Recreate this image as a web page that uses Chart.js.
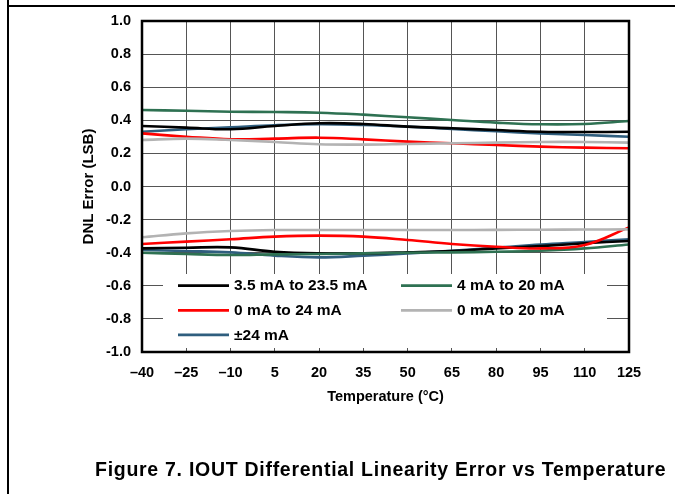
<!DOCTYPE html>
<html><head><meta charset="utf-8">
<script src="https://cdn.jsdelivr.net/npm/chart.js@4/dist/chart.umd.min.js"></script>
<style>
html,body{margin:0;padding:0;background:#fff;}
#wrap{position:relative;width:675px;height:494px;overflow:hidden;background:#fff;}
#c{position:absolute;left:0;top:0;}
#frameV{position:absolute;left:7px;top:0;width:2px;height:494px;background:#000;}
#frameH{position:absolute;left:7px;top:5px;width:668px;height:2px;background:#000;}
#cap{position:absolute;left:95px;top:458px;font:bold 19.5px "Liberation Sans",Arial,sans-serif;letter-spacing:0.72px;color:#000;white-space:nowrap;}
</style></head>
<body>
<div id="wrap">
<canvas id="c" width="675" height="494"></canvas>
<div id="frameV"></div><div id="frameH"></div>
<div id="cap">Figure 7. IOUT Differential Linearity Error vs Temperature</div>
</div>
<script>
const tempLabels = ['–40','–25','–10','5','20','35','50','65','80','95','110','125'];
const yTickLabels = ['-1.0','-0.8','-0.6','-0.4','-0.2','0.0','0.2','0.4','0.6','0.8','1.0'];
const seriesNames = ['3.5 mA to 23.5 mA','4 mA to 20 mA','0 mA to 24 mA','0 mA to 20 mA','±24 mA'];

const dnlMax_3p5to23p5 = [0.366,0.356,0.346,0.366,0.382,0.378,0.362,0.352,0.341,0.331,0.329,0.331];
const dnlMin_3p5to23p5 = [-0.374,-0.370,-0.368,-0.394,-0.404,-0.404,-0.398,-0.390,-0.374,-0.360,-0.343,-0.329];
const dnlMax_4to20 = [0.462,0.458,0.452,0.450,0.446,0.434,0.418,0.402,0.386,0.376,0.378,0.396];
const dnlMin_4to20 = [-0.400,-0.408,-0.414,-0.410,-0.408,-0.404,-0.400,-0.398,-0.394,-0.388,-0.374,-0.350];
const dnlMax_0to24 = [0.321,0.301,0.285,0.289,0.295,0.285,0.271,0.261,0.251,0.241,0.235,0.231];
const dnlMin_0to24 = [-0.347,-0.333,-0.319,-0.303,-0.297,-0.303,-0.323,-0.347,-0.364,-0.374,-0.353,-0.247];
const dnlMax_0to20 = [0.281,0.289,0.281,0.269,0.255,0.253,0.257,0.261,0.265,0.269,0.269,0.265];
const dnlMin_0to20 = [-0.307,-0.283,-0.269,-0.263,-0.263,-0.263,-0.263,-0.263,-0.262,-0.261,-0.260,-0.259];
const dnlMax_pm24 = [0.331,0.346,0.358,0.370,0.376,0.372,0.362,0.348,0.334,0.321,0.311,0.301];
const dnlMin_pm24 = [-0.384,-0.390,-0.398,-0.418,-0.428,-0.418,-0.404,-0.388,-0.370,-0.350,-0.335,-0.319];

const colors = ['#000000','#2e7152','#ff0000','#b3b3b3','#2f5e7e'];
const FONT = '"Liberation Sans", Arial, sans-serif';

function ds(data, si){
  return {label: seriesNames[si], data, borderColor: colors[si], backgroundColor: colors[si],
    borderWidth: 2.6, pointRadius: 0, tension: 0.4, fill:false};
}
const datasets = [
  ds(dnlMax_0to20,3), ds(dnlMin_0to20,3),
  ds(dnlMax_0to24,2), ds(dnlMin_0to24,2),
  ds(dnlMax_4to20,1), ds(dnlMin_4to20,1),
  ds(dnlMax_3p5to23p5,0), ds(dnlMin_3p5to23p5,0),
  ds(dnlMax_pm24,4), ds(dnlMin_pm24,4)
];

const deco = {
  id:'deco',
  beforeDatasetsDraw(chart){
    const {ctx, chartArea:a} = chart;
    ctx.save();
    ctx.fillStyle = '#fff';
    ctx.fillRect(a.left+21, a.top+253, a.width-43, 74);
    const order = [[0,0],[1,1],[2,0],[3,1],[4,0]];
    ctx.font = 'bold 15.5px ' + FONT;
    ctx.textBaseline = 'middle';
    ctx.fillStyle = '#000';
    order.forEach(([si,col],i)=>{
      const row = Math.floor(i/2);
      const y = a.top + 264.7 + row*24.6;
      const x0 = a.left + 36 + col*223;
      ctx.strokeStyle = colors[si];
      ctx.lineWidth = 2.8;
      ctx.beginPath(); ctx.moveTo(x0, y); ctx.lineTo(x0+51, y); ctx.stroke();
      ctx.fillText(seriesNames[si], x0+56, y+0.5);
    });
    ctx.restore();
  },
  afterDatasetsDraw(chart){
    const {ctx, chartArea:a} = chart;
    ctx.save();
    ctx.strokeStyle = '#000';
    ctx.lineWidth = 2.5;
    ctx.strokeRect(a.left, a.top, a.width, a.height);
    ctx.restore();
  }
};

new Chart(document.getElementById('c'), {
  type:'line',
  data:{labels: tempLabels, datasets},
  plugins:[deco],
  options:{
    responsive:false, animation:false, devicePixelRatio:1,
    layout:{padding:{left:76, top:21, right:46, bottom:85}},
    plugins:{legend:{display:false}, tooltip:{enabled:false}, title:{display:false}},
    scales:{
      x:{
        offset:false,
        grid:{color:'#555', lineWidth:1, drawTicks:false},
        border:{display:false},
        ticks:{font:{family:FONT, weight:'bold', size:14.5}, color:'#000', padding:12, maxRotation:0, autoSkip:false},
        title:{display:true, text:'Temperature (°C)', font:{family:FONT, weight:'bold', size:14.5}, color:'#000', padding:{top:4,bottom:3}},
        afterFit(s){ s.height = 57; }
      },
      y:{
        min:-1, max:1,
        grid:{color:'#555', lineWidth:1, drawTicks:false},
        border:{display:false},
        ticks:{stepSize:0.2, font:{family:FONT, weight:'bold', size:14.5}, color:'#000', padding:11,
          callback:(v,i)=> yTickLabels[i]},
        title:{display:true, text:'DNL Error (LSB)', font:{family:FONT, weight:'bold', size:15}, color:'#000', padding:{top:4,bottom:4}},
        afterFit(s){ s.width = 66; }
      }
    }
  }
});
</script>
</body></html>
